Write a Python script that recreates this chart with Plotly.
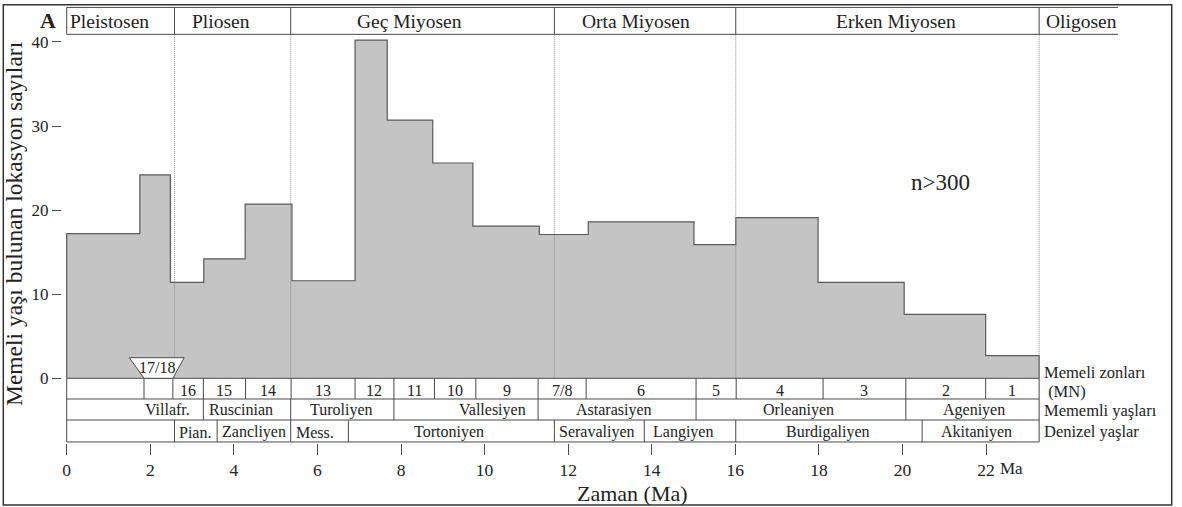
import plotly.graph_objects as go

# ---------------- data (ages in Ma, counts) ----------------
BIN_EDGES_MA = [0, 1.75, 2.48, 3.28, 4.27, 5.39, 6.90, 7.67, 8.76, 9.72, 11.31,
                12.48, 15.01, 16.01, 17.98, 20.04, 21.99, 23.27]
LOCALITY_COUNTS = [17.2, 24.2, 11.4, 14.2, 20.7, 11.6, 40.2, 30.7, 25.6, 18.1,
                   17.1, 18.6, 15.9, 19.1, 11.4, 7.6, 2.7]

EPOCH_LABELS = ["Pleistosen", "Pliosen", "Geç Miyosen", "Orta Miyosen", "Erken Miyosen", "Oligosen"]
EPOCH_EDGES_MA = [0, 2.58, 5.36, 11.67, 16.01, 23.27, 25.16]

MN_LABELS = ["", "", "16", "15", "14", "13", "12", "11", "10", "9", "7/8", "6", "5", "4", "3", "2", "1"]
MN_EDGES_MA = [0, 1.85, 2.54, 3.27, 4.28, 5.37, 6.90, 7.83, 8.80, 9.79, 11.28,
               12.43, 15.06, 16.02, 18.10, 20.08, 21.99, 23.27]
MN_1718_LABEL = "17/18"

MAMMAL_AGE_LABELS = ["Villafr.", "Ruscinian", "Turoliyen", "Vallesiyen", "Astarasiyen", "Orleaniyen", "Ageniyen"]
MAMMAL_AGE_EDGES_MA = [0, 3.27, 5.36, 7.83, 11.28, 15.06, 20.08, 23.27]

MARINE_AGE_LABELS = ["", "Pian.", "Zancliyen", "Mess.", "Tortoniyen", "Seravaliyen", "Langiyen", "Burdigaliyen", "Akitaniyen"]
MARINE_AGE_EDGES_MA = [0, 2.58, 3.60, 5.36, 6.74, 11.67, 13.82, 16.01, 20.47, 23.27]

X_TICKS = [0, 2, 4, 6, 8, 10, 12, 14, 16, 18, 20, 22]
Y_TICKS = [0, 10, 20, 30, 40]

ROW_TITLES = ["Memeli zonları", " (MN)", "Mememli yaşları", "Denizel yaşlar"]
Y_TITLE = "Memeli yaşı bulunan lokasyon sayıları"
X_TITLE = "Zaman (Ma)"
PANEL = "A"
N_TEXT = "n>300"

# ---------------- layout (positions / styles) ----------------
W, H = 1182, 507
ML, MR, MT, MB = 62, 64, 2, 64
X0_PX, PX_PER_MA = 66.7, 41.79
Y0_PX, PX_PER_UNIT = 378.3, 8.41
XMIN = -(X0_PX - ML) / PX_PER_MA
XMAX = XMIN + (W - ML - MR) / PX_PER_MA
YMAX = (Y0_PX - MT) / PX_PER_UNIT
YMIN = YMAX - (H - MT - MB) / PX_PER_UNIT

ROW_Y = [0, -2.46, -4.96, -7.57]
HEADER_Y = (40.9, 44.1)
EPOCH_LABEL_X = [0.03, 3.69, 8.21, 13.62, 19.85, 23.38]
EPOCH_LABEL_ANCHOR = ["left", "center", "center", "center", "center", "left"]
MAMMAL_LABEL_X = [2.42, 4.16, 6.58, 10.2, 13.1, 17.52, 21.70]
MARINE_LABEL_X = [1.3, 3.06, 4.48, 5.95, 9.14, 12.68, 14.75, 18.22, 21.76]
ROW_TITLE_PY = [372.5, 391.5, 410, 431]
TRAP = dict(top_y=2.45, top_x0=1.50, top_x1=2.81)

FONT = "Liberation Serif, Times New Roman, serif"
INK = "#222222"
LINE = "#4a4a4a"
FILL = "#c4c4c4"


def fx(px):
    return (px - ML) / (W - ML - MR)


def fy(py):
    return (H - MB - py) / (H - MT - MB)


def ydat(py):
    return (Y0_PX - py) / PX_PER_UNIT


fig = go.Figure()

# step histogram outline + fill
xs = [BIN_EDGES_MA[0]]
ys = [0]
for i, v in enumerate(LOCALITY_COUNTS):
    xs += [BIN_EDGES_MA[i], BIN_EDGES_MA[i + 1]]
    ys += [v, v]
xs.append(BIN_EDGES_MA[-1])
ys.append(0)
fig.add_trace(go.Scatter(x=xs, y=ys, mode="lines", fill="toself", fillcolor=FILL,
                         line=dict(color="#5a5a5a", width=1.2), hoverinfo="skip",
                         showlegend=False))

shapes = []
annotations = []


def hline(y, x0, x1, color=LINE, width=1, dash="solid"):
    shapes.append(dict(type="line", xref="x", yref="y", x0=x0, x1=x1, y0=y, y1=y,
                       line=dict(color=color, width=width, dash=dash), layer="above"))


def vline(x, y0, y1, color=LINE, width=1, dash="solid"):
    shapes.append(dict(type="line", xref="x", yref="y", x0=x, x1=x, y0=y0, y1=y1,
                       line=dict(color=color, width=width, dash=dash), layer="above"))


def text(x, y, s, size, anchor="center", xref="x", yref="y", bold=False, angle=0):
    annotations.append(dict(x=x, y=y, xref=xref, yref=yref, text=("<b>%s</b>" % s) if bold else s,
                            showarrow=False, xanchor=anchor, yanchor="middle", textangle=angle,
                            font=dict(family=FONT, size=size, color=INK)))


# epoch boundaries (fine dotted) through the plot
for e in EPOCH_EDGES_MA[1:-1]:
    vline(e, 0, HEADER_Y[0], color="#8c8c8c", width=1, dash="1px,1px")

# header band
hline(HEADER_Y[0], 0, EPOCH_EDGES_MA[-1])
hline(HEADER_Y[1], 0, EPOCH_EDGES_MA[-1])
for e in EPOCH_EDGES_MA[:-1]:
    vline(e, HEADER_Y[0], HEADER_Y[1])
hy = ydat(21.5)
for lab, lx, an in zip(EPOCH_LABELS, EPOCH_LABEL_X, EPOCH_LABEL_ANCHOR):
    text(lx, hy, lab, 19.5, anchor=an)

# table rows
tab_end = MN_EDGES_MA[-1]
for ry in ROW_Y:
    hline(ry, 0, tab_end)
vline(0, ROW_Y[-1], 0)
vline(tab_end, ROW_Y[-1], 0)

for e in MN_EDGES_MA[1:-1]:
    vline(e, ROW_Y[1], ROW_Y[0])
for i, lab in enumerate(MN_LABELS):
    if lab:
        text((MN_EDGES_MA[i] + MN_EDGES_MA[i + 1]) / 2, -1.42, lab, 16)

for e in MAMMAL_AGE_EDGES_MA[1:-1]:
    vline(e, ROW_Y[2], ROW_Y[1])
for lab, lx in zip(MAMMAL_AGE_LABELS, MAMMAL_LABEL_X):
    text(lx, -3.72, lab, 16)

for e in MARINE_AGE_EDGES_MA[1:-1]:
    vline(e, ROW_Y[3], ROW_Y[2])
for lab, lx in zip(MARINE_AGE_LABELS, MARINE_LABEL_X):
    if lab:
        text(lx, -6.4, lab, 16)

# MN 17/18 inverted trapezoid
b0, b1 = MN_EDGES_MA[1], MN_EDGES_MA[2]
path = "M %f,%f L %f,%f L %f,%f L %f,%f Z" % (TRAP["top_x0"], TRAP["top_y"], TRAP["top_x1"], TRAP["top_y"],
                                               b1, 0, b0, 0)
shapes.append(dict(type="path", xref="x", yref="y", path=path, fillcolor="white",
                   line=dict(color=LINE, width=1), layer="above"))
text((TRAP["top_x0"] + TRAP["top_x1"]) / 2, 1.25, MN_1718_LABEL, 16)

# right-hand row titles
for lab, py in zip(ROW_TITLES, ROW_TITLE_PY):
    text(fx(1042), fy(py), lab, 16.5, anchor="left", xref="paper", yref="paper")

# Ma after 22
text(fx(998), fy(469), "Ma", 17, anchor="left", xref="paper", yref="paper")

# titles
text(fx(14), fy(224), Y_TITLE, 23.5, xref="paper", yref="paper", angle=-90)
text(fx(632), fy(494), X_TITLE, 22, xref="paper", yref="paper")
text(fx(47.5), fy(20.5), PANEL, 22, xref="paper", yref="paper", bold=True)
text(fx(940), fy(182), N_TEXT, 23, xref="paper", yref="paper")

# outer frame
shapes.append(dict(type="rect", xref="paper", yref="paper", x0=fx(3.3), x1=fx(1171.7),
                   y0=fy(505), y1=fy(4.7), line=dict(color="#333333", width=1.5)))

fig.update_layout(
    width=W, height=H,
    margin=dict(l=ML, r=MR, t=MT, b=MB, pad=0),
    paper_bgcolor="white", plot_bgcolor="white",
    shapes=shapes, annotations=annotations,
    showlegend=False,
    xaxis=dict(range=[XMIN, XMAX], tickvals=X_TICKS, ticktext=[str(t) for t in X_TICKS],
               ticks="outside", ticklen=11, tickcolor=LINE, tickwidth=1,
               showgrid=False, zeroline=False, showline=False,
               tickfont=dict(family=FONT, size=17.5, color=INK)),
    yaxis=dict(range=[YMIN, YMAX], tickvals=Y_TICKS, ticktext=[str(t) for t in Y_TICKS],
               ticks="outside", ticklen=9, tickcolor=LINE, tickwidth=1,
               showgrid=False, zeroline=False, showline=False,
               tickfont=dict(family=FONT, size=17, color=INK)),
)

fig.write_html("out.html")
